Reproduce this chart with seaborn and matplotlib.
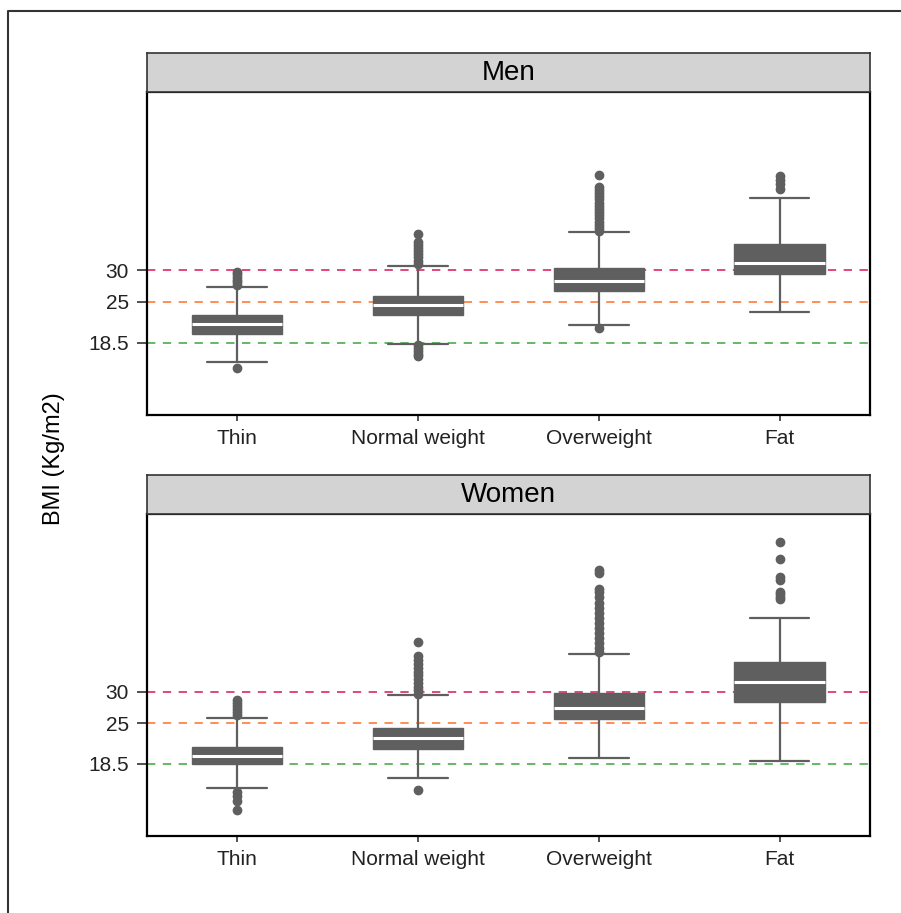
import numpy as np
import pandas as pd
import matplotlib
matplotlib.use("Agg")
import matplotlib.pyplot as plt
import seaborn as sns

sns.set_theme(style="white")
plt.rcParams['font.family'] = ['Liberation Sans', 'DejaVu Sans']

# BMI categories and box statistics
groups = ["Thin", "Normal weight", "Overweight", "Fat"]
thresholds = [18.5, 25, 30]
threshold_colors = ["#4DAA4A", "#FF7A3D", "#DC2A5E"]

men_whislo = [15.4, 18.3, 21.3, 23.3]
men_q1 = [19.8, 22.85, 26.7, 29.4]
men_med = [21.5, 24.4, 28.3, 31.05]
men_q3 = [22.8, 25.9, 30.3, 34.1]
men_whishi = [27.35, 30.6, 36.0, 41.4]
men_fliers = [
    [29.7, 29.3, 28.9, 28.5, 28.1, 27.7, 14.4],
    [35.65, 34.5, 34.0, 33.5, 33.0, 32.5, 32.0, 31.5, 31.0, 18.1, 17.6, 17.1, 16.6, 16.3],
    [45.1, 43.2, 42.7, 42.2, 41.7, 41.2, 40.7, 40.2, 39.7, 39.2, 38.7, 38.2, 37.7, 37.2,
     36.7, 36.2, 20.8],
    [45.0, 44.3, 43.6, 42.8],
]

women_whislo = [14.7, 16.2, 19.45, 18.95]
women_q1 = [18.4, 20.9, 25.7, 28.4]
women_med = [19.8, 22.55, 27.4, 31.6]
women_q3 = [21.2, 24.2, 29.8, 34.65]
women_whishi = [25.75, 29.4, 36.0, 41.75]
women_fliers = [
    [28.7, 28.2, 27.7, 27.2, 26.7, 26.2, 14.0, 13.4, 12.6, 11.2],
    [37.9, 35.6, 35.0, 34.4, 33.8, 33.2, 32.6, 32.0, 31.4, 30.8, 30.2, 29.7, 14.3],
    [49.4, 48.9, 46.4, 45.8, 45.0, 44.2, 43.4, 42.6, 41.8, 41.0, 40.2, 39.4, 38.6, 37.8,
     37.0, 36.3],
    [53.9, 51.15, 48.2, 47.8, 45.9, 45.5, 45.1, 44.8],
]

stats = pd.DataFrame({
    'sex': ['Men'] * 4 + ['Women'] * 4,
    'group': groups * 2,
    'whislo': men_whislo + women_whislo,
    'q1': men_q1 + women_q1,
    'med': men_med + women_med,
    'q3': men_q3 + women_q3,
    'whishi': men_whishi + women_whishi,
    'fliers': men_fliers + women_fliers,
})

W, H = 901, 913
fig = plt.figure(figsize=(W / 100, H / 100), dpi=100)

def box(px_left, px_top, px_right, px_bottom):
    return [px_left / W, 1 - px_bottom / H, (px_right - px_left) / W, (px_bottom - px_top) / H]

grey = "#5F5F5F"
panels = [('Men', 53.3, 91.7, 415), ('Women', 475.5, 514, 836)]

for sex, strip_top, top, bottom in panels:
    ax = fig.add_axes(box(146.7, top, 870, bottom))
    sub = stats[stats['sex'] == sex]
    bstats = [dict(label=r.group, whislo=r.whislo, q1=r.q1, med=r.med, q3=r.q3,
                   whishi=r.whishi, fliers=np.array(r.fliers))
              for r in sub.itertuples()]
    for val, col in zip(thresholds, threshold_colors):
        ax.axhline(val, color=col, lw=1.2, ls=(0, (5, 4.5)), zorder=1)
    ax.bxp(bstats, positions=[1, 2, 3, 4], widths=0.5, capwidths=0.33,
           patch_artist=True, zorder=3,
           boxprops=dict(facecolor=grey, edgecolor=grey, linewidth=1),
           medianprops=dict(color='white', linewidth=2.2),
           whiskerprops=dict(color=grey, linewidth=1.6),
           capprops=dict(color=grey, linewidth=1.6),
           flierprops=dict(marker='o', markerfacecolor=grey, markeredgecolor=grey,
                           markersize=6))
    ax.set_xlim(0.5, 4.5)
    ax.set_ylim(7.0, 58.3)
    ax.set_yticks(thresholds)
    ax.set_yticklabels(['18.5', '25', '30'])
    ax.set_xticks([1, 2, 3, 4])
    ax.set_xticklabels(groups)
    ax.tick_params(axis='y', length=7, width=1.2, color='#333333', pad=6,
                   labelsize=15, labelcolor='#222222', left=True)
    ax.tick_params(axis='x', length=4, width=1.2, color='#333333', pad=6,
                   labelsize=15, labelcolor='#222222', bottom=True)
    for sp in ax.spines.values():
        sp.set_color('black')
        sp.set_linewidth(1.6)

    strip = fig.add_axes(box(146.7, strip_top, 870, top))
    strip.set_facecolor('#D3D3D3')
    strip.set_xticks([])
    strip.set_yticks([])
    for sp in strip.spines.values():
        sp.set_color('#333333')
        sp.set_linewidth(1.2)
    strip.text(0.5, 0.5, sex, ha='center', va='center', fontsize=20, color='black',
               transform=strip.transAxes)

fig.text(54 / W, 1 - 459 / H, 'BMI (Kg/m2)', rotation=90, ha='center', va='center',
         fontsize=17, color='black')

# outer frame (left and top edges visible)
fig.add_artist(plt.Line2D([8 / W, 8 / W, 1.0], [0.0, 1 - 11 / H, 1 - 11 / H],
                          transform=fig.transFigure, color='#333333', lw=1.5))

fig.savefig('out.png', dpi=100)
